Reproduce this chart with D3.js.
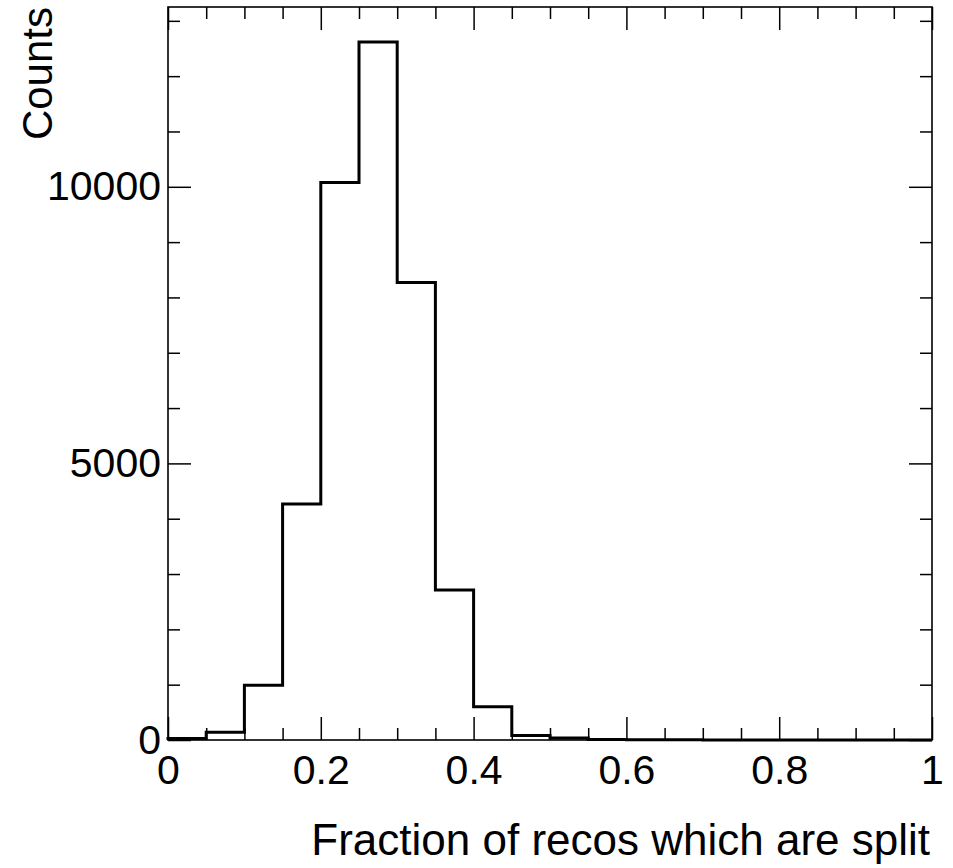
<!DOCTYPE html>
<html>
<head>
<meta charset="utf-8">
<script src="https://cdn.jsdelivr.net/npm/d3@7/dist/d3.min.js"></script>
<style>
  html, body { margin: 0; padding: 0; background: #fff; }
  svg { display: block; }
  text { font-family: "Liberation Sans", Arial, Helvetica, sans-serif; fill: #000; }
</style>
</head>
<body>
<svg id="chart" width="953" height="868"></svg>
<script>
// ---- data ----
const binEdgesLow = [0.00, 0.05, 0.10, 0.15, 0.20, 0.25, 0.30, 0.35, 0.40, 0.45,
                     0.50, 0.55, 0.60, 0.65, 0.70, 0.75, 0.80, 0.85, 0.90, 0.95];
const binWidth = 0.05;
const counts = [25, 140, 990, 4268, 10076, 12619, 8268, 2712, 602, 80,
                35, 10, 5, 3, 2, 1, 1, 0, 0, 0];
const xTickValues = [0, 0.2, 0.4, 0.6, 0.8, 1];
const xTickLabels = ["0", "0.2", "0.4", "0.6", "0.8", "1"];
const yTickValues = [0, 5000, 10000];
const yTickLabels = ["0", "5000", "10000"];
const xTitle = "Fraction of recos which are split";
const yTitle = "Counts";

// ---- layout ----
const L = 168, R = 932, T = 7, B = 740;
const yMax = 13250;

const svg = d3.select("#chart");
const x = d3.scaleLinear().domain([0, 1]).range([L, R]);
const y = d3.scaleLinear().domain([0, yMax]).range([B, T]);

const xMinor = d3.range(0, 1.0001, 0.05).map(v => +v.toFixed(2)).filter(v => !xTickValues.some(t => Math.abs(t - v) < 1e-9));
const yMinor = d3.range(0, yMax, 1000).filter(v => !yTickValues.includes(v));

const g = svg.append("g");

// histogram step line
let d = "M" + x(binEdgesLow[0]) + "," + y(0);
counts.forEach((c, i) => {
  d += "V" + y(c) + "H" + x(binEdgesLow[i] + binWidth);
});
d += "V" + y(0);
g.append("path").attr("d", d).attr("fill", "none").attr("stroke", "#000")
  .attr("stroke-width", 3).attr("stroke-linejoin", "miter");

// frame
g.append("rect").attr("x", L).attr("y", T).attr("width", R - L).attr("height", B - T)
  .attr("fill", "none").attr("stroke", "#000").attr("stroke-width", 1.6);

function styleAxis(sel) {
  sel.select(".domain").remove();
  sel.selectAll(".tick line").attr("stroke", "#000").attr("stroke-width", 1.5);
}
const majLen = 23, minLen = 12;
const tickFont = 41;

// bottom
const gxb = g.append("g").attr("transform", `translate(0,${B})`)
  .call(d3.axisBottom(x).tickValues(xTickValues).tickSizeInner(-majLen).tickSizeOuter(0)
    .tickFormat((v, i) => xTickLabels[i]));
styleAxis(gxb);
gxb.selectAll(".tick text").attr("font-size", tickFont)
  .attr("font-family", '"Liberation Sans", Arial, sans-serif').attr("dy", "0.71em").attr("y", 15);
const gxbm = g.append("g").attr("transform", `translate(0,${B})`)
  .call(d3.axisBottom(x).tickValues(xMinor).tickSizeInner(-minLen).tickSizeOuter(0).tickFormat(""));
styleAxis(gxbm);
// top
const gxt = g.append("g").attr("transform", `translate(0,${T})`)
  .call(d3.axisTop(x).tickValues(xTickValues).tickSizeInner(-majLen).tickSizeOuter(0).tickFormat(""));
styleAxis(gxt);
const gxtm = g.append("g").attr("transform", `translate(0,${T})`)
  .call(d3.axisTop(x).tickValues(xMinor).tickSizeInner(-minLen).tickSizeOuter(0).tickFormat(""));
styleAxis(gxtm);

// left
const gyl = g.append("g").attr("transform", `translate(${L},0)`)
  .call(d3.axisLeft(y).tickValues(yTickValues).tickSizeInner(-majLen).tickSizeOuter(0)
    .tickFormat((v, i) => yTickLabels[i]));
styleAxis(gyl);
gyl.selectAll(".tick text").attr("font-size", tickFont)
  .attr("font-family", '"Liberation Sans", Arial, sans-serif').attr("x", -7);
const gylm = g.append("g").attr("transform", `translate(${L},0)`)
  .call(d3.axisLeft(y).tickValues(yMinor).tickSizeInner(-minLen).tickSizeOuter(0).tickFormat(""));
styleAxis(gylm);
// right
const gyr = g.append("g").attr("transform", `translate(${R},0)`)
  .call(d3.axisRight(y).tickValues(yTickValues).tickSizeInner(-majLen).tickSizeOuter(0).tickFormat(""));
styleAxis(gyr);
const gyrm = g.append("g").attr("transform", `translate(${R},0)`)
  .call(d3.axisRight(y).tickValues(yMinor).tickSizeInner(-minLen).tickSizeOuter(0).tickFormat(""));
styleAxis(gyrm);

// titles
svg.append("text").attr("x", 930).attr("y", 855).attr("text-anchor", "end")
  .attr("font-size", 44).text(xTitle);
svg.append("text").attr("transform", "translate(52,7) rotate(-90)").attr("text-anchor", "end")
  .attr("font-size", 42).text(yTitle);
</script>
</body>
</html>
